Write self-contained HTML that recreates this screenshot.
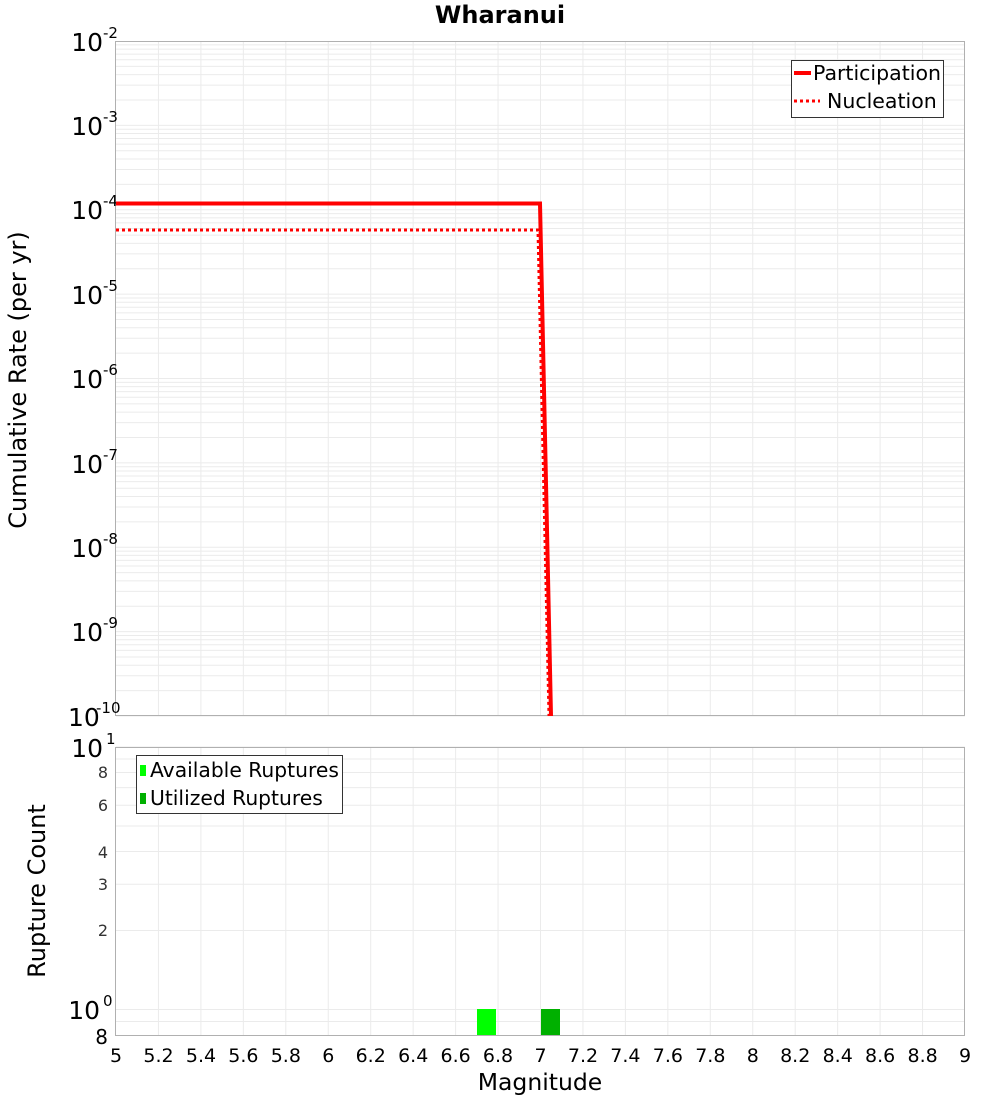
<!DOCTYPE html>
<html><head><meta charset="utf-8"><style>body{margin:0;background:#fff}svg{display:block;font-family:"DejaVu Sans","Liberation Sans",sans-serif}</style></head>
<body>
<svg width="1000" height="1100" xmlns="http://www.w3.org/2000/svg">
<rect width="1000" height="1100" fill="#fff"/>
<text x="500" y="23" text-anchor="middle" font-size="24" font-weight="bold">Wharanui</text>
<g stroke="#ebebeb" stroke-width="1" id="g1"></g>
<script>
(function(){
var ns="http://www.w3.org/2000/svg",g=document.getElementById('g1');
function L(x1,y1,x2,y2){var l=document.createElementNS(ns,'line');l.setAttribute('x1',x1);l.setAttribute('y1',y1);l.setAttribute('x2',x2);l.setAttribute('y2',y2);g.appendChild(l);}
for(var i=1;i<20;i++){var x=116+i*42.45;L(x,41,x,716);L(x,747,x,1035);}
var dp=84.375;
for(var d=0;d<8;d++){var yb=716-d*dp;for(var k=1;k<10;k++){var y=yb-Math.log10(k)*dp;L(116,y,965,y);}}
var bp=262.5,y0=1009.5;
for(var k=1;k<=10;k++){var y=y0-Math.log10(k)*bp;L(116,y,965,y);}
L(116,y0-Math.log10(0.9)*bp,965,y0-Math.log10(0.9)*bp);
})();
</script>
<rect x="115.5" y="41.5" width="849" height="674" fill="none" stroke="#b0b0b0"/>
<rect x="115.5" y="747.5" width="849" height="288" fill="none" stroke="#b0b0b0"/>
<g font-size="25" text-anchor="end">
<text x="103" y="51">10</text><text x="103" y="135">10</text><text x="103" y="219">10</text><text x="103" y="304">10</text><text x="103" y="388">10</text><text x="103" y="473">10</text><text x="103" y="557">10</text><text x="103" y="641">10</text>
</g>
<g font-size="15">
<text x="103" y="38">-2</text><text x="103" y="122">-3</text><text x="103" y="206">-4</text><text x="103" y="291">-5</text><text x="103" y="375">-6</text><text x="103" y="460">-7</text><text x="103" y="544">-8</text><text x="103" y="628">-9</text>
</g>
<text x="68" y="726" font-size="25">10</text><text x="96" y="713" font-size="15">-10</text>
<text x="26" y="380" font-size="24" text-anchor="middle" transform="rotate(-90 26 380)">Cumulative Rate (per yr)</text>
<polyline points="116,203.5 540,203.5 551,716" fill="none" stroke="#ff0000" stroke-width="4"/>
<polyline points="116,230 538,230 549,716" fill="none" stroke="#ff0000" stroke-width="3" stroke-dasharray="3,3"/>
<rect x="791.5" y="60.5" width="152" height="57" fill="#fff" stroke="#333"/>
<line x1="794" y1="73" x2="811" y2="73" stroke="#f00" stroke-width="4"/>
<line x1="794" y1="101" x2="820" y2="101" stroke="#f00" stroke-width="3" stroke-dasharray="3,3"/>
<text x="813" y="80" font-size="20.5">Participation</text>
<text x="827" y="108" font-size="20.5">Nucleation</text>
<rect x="477" y="1009" width="19" height="26" fill="#00ff00"/>
<rect x="541" y="1009" width="19" height="26" fill="#00b000"/>
<text x="103" y="757" font-size="25" text-anchor="end">10</text><text x="106" y="744" font-size="15">1</text>
<g font-size="16" text-anchor="end" fill="#333">
<text x="108" y="778">8</text><text x="108" y="811">6</text><text x="108" y="858">4</text><text x="108" y="890">3</text><text x="108" y="936">2</text>
</g>
<text x="100" y="1019" font-size="25" text-anchor="end">10</text><text x="103" y="1006" font-size="15">0</text>
<text x="108" y="1044" font-size="20" text-anchor="end">8</text>
<text x="45" y="891" font-size="24" text-anchor="middle" transform="rotate(-90 45 891)">Rupture Count</text>
<rect x="136.5" y="755.5" width="206" height="58" fill="#fff" stroke="#333"/>
<rect x="140" y="765" width="6" height="11" fill="#00ff00"/>
<rect x="140" y="793" width="6" height="11" fill="#00b000"/>
<text x="150" y="777" font-size="20.3">Available Ruptures</text>
<text x="150" y="805" font-size="20.3">Utilized Ruptures</text>
<g font-size="19" text-anchor="middle">
<text x="116" y="1062">5</text><text x="158.5" y="1062">5.2</text><text x="201" y="1062">5.4</text><text x="243.4" y="1062">5.6</text><text x="285.8" y="1062">5.8</text><text x="328.3" y="1062">6</text><text x="370.7" y="1062">6.2</text><text x="413.2" y="1062">6.4</text><text x="455.6" y="1062">6.6</text><text x="498" y="1062">6.8</text><text x="540.5" y="1062">7</text><text x="583" y="1062">7.2</text><text x="625.4" y="1062">7.4</text><text x="667.9" y="1062">7.6</text><text x="710.3" y="1062">7.8</text><text x="752.8" y="1062">8</text><text x="795.2" y="1062">8.2</text><text x="837.7" y="1062">8.4</text><text x="880.1" y="1062">8.6</text><text x="922.6" y="1062">8.8</text><text x="965" y="1062">9</text>
</g>
<text x="540" y="1090" font-size="23.5" text-anchor="middle">Magnitude</text>
</svg>
</body></html>
